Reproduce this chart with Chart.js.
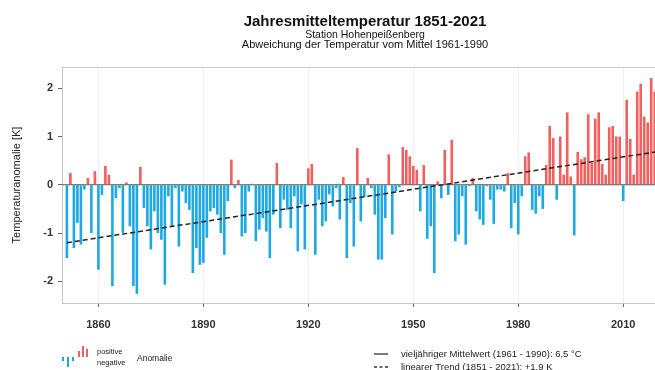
<!DOCTYPE html>
<html>
<head>
<meta charset="utf-8">
<script src="https://cdn.jsdelivr.net/npm/chart.js@4.4.1/dist/chart.umd.min.js"></script>
<style>
  html, body { margin: 0; padding: 0; overflow: hidden; background: #fff; }
  #wrap { width: 668px; height: 370px; position: relative; }
</style>
</head>
<body>
<div id="wrap"><canvas id="chartTemp"></canvas></div>
<script>
// Anomalies vs. 1961-1990 mean, Hohenpeissenberg, 1851..2021 (one row per decade)
const anomalies = [
  -1.52, 0.24, -1.31, -0.79, -1.24, -0.10, 0.14, -1.00, 0.28, -1.76,
  -0.21, 0.39, 0.21, -2.10, -0.28, -0.07, -1.00, 0.05, -0.86, -2.10,
  -2.26, 0.37, -0.48, -0.86, -1.34, -0.55, -1.00, -1.14, -2.07, -0.24,
  -0.86, -0.07, -1.28, -0.14, -0.38, -0.52, -1.83, -1.31, -1.66, -1.62,
  -1.10, -0.55, -0.48, -0.62, -1.00, -1.45, -0.34, 0.52, -0.07, 0.10,
  -1.07, -1.00, -0.14, 0.02, -1.17, -0.93, -0.69, -0.97, -1.52, -0.62,
  0.45, -0.90, -0.31, -0.52, -0.90, -0.24, -1.38, -0.40, -1.34, 0.34,
  0.43, -1.45, -0.31, -0.86, -0.76, -0.20, -0.45, -0.07, -0.72, 0.16,
  -1.52, -0.38, -1.28, 0.76, -0.76, -0.25, 0.14, -0.07, -0.62, -1.55,
  -1.55, -0.69, 0.63, -1.03, -0.14, -0.05, 0.78, 0.72, 0.59, 0.39,
  0.31, -0.55, 0.41, -1.12, -0.86, -1.83, 0.07, -0.28, 0.72, -0.21,
  0.93, -1.17, -1.03, -0.24, -1.24, -0.03, 0.14, -0.55, -0.72, -0.83,
  -0.03, -0.31, -0.81, -0.10, -0.10, -0.14, 0.24, -0.90, -0.38, -1.03,
  -0.24, 0.59, 0.67, -0.52, -0.60, -0.24, -0.50, 0.41, 1.22, 0.97,
  -0.31, 1.00, 0.21, 1.50, 0.17, -1.05, 0.68, 0.53, 0.57, 1.46,
  0.45, 1.37, 1.50, 0.43, 0.21, 1.19, 1.22, 1.00, 1.00, -0.34,
  1.76, 0.95, 0.21, 1.93, 2.09, 1.41, 1.29, 2.21, 1.93, 1.95,
  0.85
];
const firstYear = 1851;
const years = anomalies.map((_, i) => firstYear + i);
const tickYears = [1860, 1890, 1920, 1950, 1980, 2010];
const yTicks = [-2, -1, 0, 1, 2];
// linear trend endpoints (1851 and 2021), +1.9 K
const trendYears = [1851, 2021];
const trendValues = [-1.2, 0.7];

const RED = '#f0605e';
const BLUE = '#20a8e0';
const FONT = '"Liberation Sans", Arial, sans-serif';

const frameAndText = {
  id: 'frameAndText',
  afterDraw(chart) {
    const ctx = chart.ctx;
    const a = chart.chartArea;
    ctx.save();
    // top border of the plot box
    ctx.strokeStyle = '#c8c8c8';
    ctx.lineWidth = 1;
    ctx.beginPath();
    ctx.moveTo(a.left, a.top + 0.5);
    ctx.lineTo(a.right, a.top + 0.5);
    ctx.stroke();

    // titles, centred on plot area
    const cx = (a.left + a.right) / 2;
    ctx.fillStyle = '#111';
    ctx.textAlign = 'center';
    ctx.textBaseline = 'middle';
    ctx.font = 'bold 15px ' + FONT;
    ctx.fillText('Jahresmitteltemperatur 1851-2021', cx, 21.5);
    ctx.font = '10.5px ' + FONT;
    ctx.fillText('Station Hohenpeißenberg', cx, 35);
    ctx.font = '11px ' + FONT;
    ctx.fillText('Abweichung der Temperatur vom Mittel 1961-1990', cx, 45);

    // legend: anomaly icon
    ctx.fillStyle = BLUE;
    ctx.fillRect(62, 357, 2, 4);
    ctx.fillRect(67, 357, 2, 10);
    ctx.fillRect(72, 357, 2, 4);
    ctx.fillStyle = RED;
    ctx.fillRect(78, 351, 2, 6);
    ctx.fillRect(82, 346, 2, 11);
    ctx.fillRect(86, 349, 2, 8);

    ctx.fillStyle = '#222';
    ctx.textAlign = 'left';
    ctx.font = '7.5px ' + FONT;
    ctx.fillText('positive', 97, 352);
    ctx.fillText('negative', 97, 363);
    ctx.font = '8.5px ' + FONT;
    ctx.fillText('Anomalie', 137, 358.5);

    // legend: lines
    ctx.strokeStyle = '#333';
    ctx.lineWidth = 1.3;
    ctx.beginPath();
    ctx.moveTo(374, 354);
    ctx.lineTo(388, 354);
    ctx.stroke();
    ctx.setLineDash([3, 2.5]);
    ctx.beginPath();
    ctx.moveTo(374, 367);
    ctx.lineTo(389, 367);
    ctx.stroke();
    ctx.setLineDash([]);
    ctx.font = '9.5px ' + FONT;
    ctx.fillText('vieljähriger Mittelwert (1961 - 1990): 6,5 °C', 401, 354);
    ctx.fillText('linearer Trend (1851 - 2021): +1,9 K', 401, 367.5);
    ctx.restore();
  }
};

const barData = years.map((yr, i) => ({ x: yr, y: anomalies[i] }));

new Chart(document.getElementById('chartTemp').getContext('2d'), {
  type: 'bar',
  data: {
    datasets: [
      {
        type: 'line',
        data: trendYears.map((yr, i) => ({ x: yr, y: trendValues[i] })),
        borderColor: '#222',
        borderWidth: 1.5,
        borderDash: [5, 3],
        pointRadius: 0,
        order: 1
      },
      {
        type: 'line',
        data: [{ x: 1849.6, y: 0 }, { x: 2022.8, y: 0 }],
        borderColor: '#555',
        borderWidth: 1,
        pointRadius: 0,
        order: 2
      },
      {
        data: barData,
        backgroundColor: anomalies.map(v => v >= 0 ? RED : BLUE),
        barPercentage: 0.75,
        categoryPercentage: 1,
        order: 3
      }
    ]
  },
  options: {
    responsive: true,
    maintainAspectRatio: false,
    animation: false,
    layout: { padding: { top: 67, left: 0, right: 0, bottom: 0 } },
    plugins: { legend: { display: false }, tooltip: { enabled: false }, title: { display: false } },
    scales: {
      x: {
        type: 'linear',
        min: 1849.6,
        max: 2022.8,
        offset: false,
        grid: { offset: false, color: '#efefef', tickColor: '#666', tickLength: 4 },
        border: { color: '#c8c8c8' },
        afterBuildTicks: axis => { axis.ticks = tickYears.map(v => ({ value: v })); },
        afterFit: scale => { scale.height = 67; },
        ticks: {
          color: '#333',
          font: { family: FONT, size: 11, weight: 'bold' },
          padding: 11,
          maxRotation: 0,
          callback: v => String(v)
        }
      },
      y: {
        min: -2.45,
        max: 2.44,
        grid: { drawOnChartArea: false, tickColor: '#666', tickLength: 4 },
        border: { color: '#c8c8c8' },
        afterBuildTicks: axis => { axis.ticks = yTicks.map(v => ({ value: v })); },
        afterFit: scale => { scale.width = 62; },
        ticks: {
          color: '#333',
          font: { family: FONT, size: 11, weight: 'bold' },
          padding: 5,
          callback: v => String(v)
        },
        title: {
          display: true,
          text: 'Temperaturanomalie [K]',
          color: '#222',
          font: { family: FONT, size: 11 },
          padding: { top: 10, bottom: 0 }
        }
      }
    }
  },
  plugins: [frameAndText]
});
</script>
</body>
</html>
